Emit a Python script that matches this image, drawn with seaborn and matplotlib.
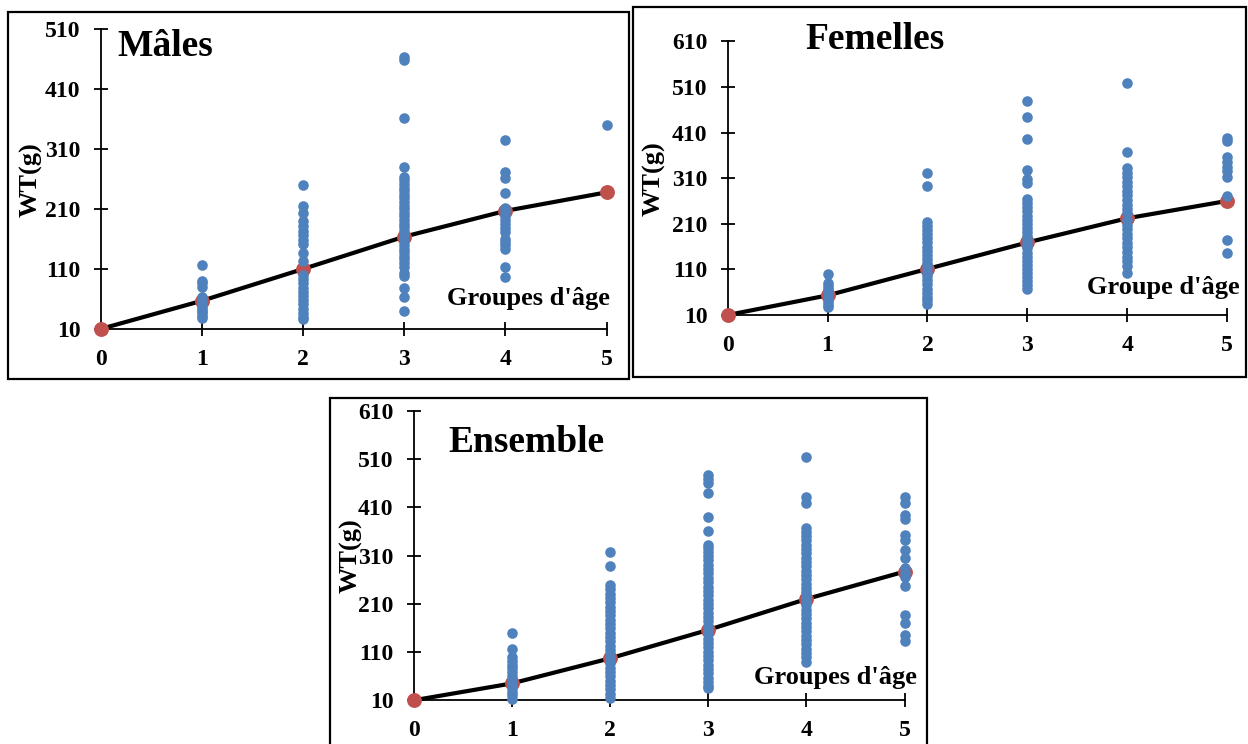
import matplotlib
matplotlib.use("Agg")
import matplotlib.pyplot as plt
from matplotlib.patches import Rectangle
import seaborn as sns
import pandas as pd

sns.set_theme(style="white")
plt.rcParams['font.family'] = ['Liberation Serif', 'DejaVu Serif']
plt.rcParams['font.weight'] = 'bold'

ages = [0, 1, 2, 3, 4, 5]

# Mâles
m1 = [117, 90, 86, 80, 64, 60, 56, 52, 48, 44, 40, 36, 32, 28]
m2 = [250, 215, 203, 190, 182, 174, 166, 158, 152, 137, 123, 100, 93, 86, 79, 72, 65, 58, 51, 44, 37, 30, 27]
m3 = [464, 459, 362, 280, 264, 258, 252, 246, 240, 234, 228, 222, 216, 210, 204, 198, 192, 186, 180, 174,
      168, 162, 156, 150, 144, 138, 132, 126, 120, 114, 103, 98, 78, 64, 40]
m4 = [325, 272, 262, 237, 212, 205, 199, 192, 186, 178, 172, 160, 155, 150, 144, 114, 96]
m5 = [350]
m_mean = [10, 57, 110, 164, 207, 238]

# Femelles
f1 = [99, 80, 74, 68, 62, 56, 50, 44, 38, 32, 27]
f2 = [322, 292, 214, 205, 196, 187, 178, 169, 160, 151, 142, 133, 124, 115, 104, 95, 86, 77, 68, 59, 50, 42, 34]
f3 = [479, 443, 395, 327, 308, 299, 264, 255, 246, 237, 228, 219, 210, 201, 192, 183, 174, 165, 156, 147,
      138, 129, 120, 111, 102, 93, 84, 75, 67]
f4 = [518, 367, 332, 322, 312, 302, 292, 282, 272, 262, 252, 242, 233, 218, 208, 198, 188, 178, 168, 158,
      148, 138, 128, 118, 101]
f5 = [398, 392, 356, 345, 335, 326, 313, 271, 174, 145]
f_mean = [10, 53, 111, 169, 222, 260]

# Ensemble
e1 = [149, 116, 100, 92, 84, 76, 68, 60, 52, 44, 36, 28, 20, 12]
e2 = [318, 289, 249, 240, 231, 222, 213, 204, 195, 186, 177, 168, 159, 150, 141, 132, 123, 114, 105, 96,
      87, 78, 69, 60, 51, 42, 33, 24, 15]
e3 = [477, 468, 460, 439, 391, 361, 333, 325, 317, 309, 300, 291, 282, 273, 264, 255, 246, 237, 228, 219,
      210, 201, 192, 183, 174, 165, 156, 147, 138, 129, 120, 111, 102, 93, 84, 75, 66, 57, 48, 40, 35]
e4 = [515, 432, 420, 367, 360, 351, 342, 333, 324, 315, 306, 297, 288, 279, 270, 261, 252, 243, 234, 225,
      216, 207, 198, 189, 180, 171, 162, 153, 144, 135, 126, 117, 108, 99, 90]
e5 = [432, 420, 394, 387, 353, 342, 322, 306, 284, 273, 266, 247, 187, 171, 145, 132]
e_mean = [10, 45, 97, 156, 220, 277]

titles = ["Mâles", "Femelles", "Ensemble"]
xlabels = ["Groupes d'âge", "Groupe d'âge", "Groupes d'âge"]
y_ticks_m = [10, 110, 210, 310, 410, 510]
y_ticks_fe = [10, 110, 210, 310, 410, 510, 610]

BLUE = "#4F81BD"
RED = "#C0504D"
W, H = 1248, 744


def long_df(groups):
    rows = []
    for age, vals in zip(ages[1:], groups):
        for v in vals:
            rows.append({"age": age, "wt": v})
    return pd.DataFrame(rows)


panels = [
    dict(groups=[m1, m2, m3, m4, m5], mean=m_mean, yt=y_ticks_m,
         ax=(100.5, 606.5, 29.3, 329), border=(8, 11.5, 629, 378.5),
         title=(117, 56), ylab=(31, 180), xlab=(610, 305)),
    dict(groups=[f1, f2, f3, f4, f5], mean=f_mean, yt=y_ticks_fe,
         ax=(727.7, 1227, 41.3, 315), border=(633, 7.5, 1246, 377),
         title=(805, 49), ylab=(654, 179), xlab=(1240, 294)),
    dict(groups=[e1, e2, e3, e4, e5], mean=e_mean, yt=y_ticks_fe,
         ax=(413.6, 904.6, 411, 700.3), border=(330, 397.5, 927, 760),
         title=(448, 452), ylab=(351, 556), xlab=(917, 684)),
]

fig = plt.figure(figsize=(W / 100, H / 100), dpi=100)

for i, p in enumerate(panels):
    x0, x5, ytop, ybot = p["ax"]
    ax = fig.add_axes([x0 / W, 1 - ybot / H, (x5 - x0) / W, (ybot - ytop) / H])
    ax.set_facecolor("none")
    bx0, by0, bx1, by1 = p["border"]
    fig.add_artist(Rectangle((bx0 / W, 1 - by1 / H), (bx1 - bx0) / W, (by1 - by0) / H,
                             transform=fig.transFigure, fill=False, ec="black", lw=1.6))

    df = long_df(p["groups"])
    mdf = pd.DataFrame({"age": ages, "wt": p["mean"]})
    sns.lineplot(data=mdf, x="age", y="wt", ax=ax, color="black", lw=3.0, clip_on=False, zorder=2)
    sns.scatterplot(data=mdf, x="age", y="wt", ax=ax, color=RED, s=115, linewidth=0,
                    clip_on=False, zorder=3)
    sns.scatterplot(data=df, x="age", y="wt", ax=ax, color=BLUE, s=58, linewidth=0,
                    clip_on=False, zorder=4)

    ax.set_xlim(0, 5)
    ax.set_ylim(p["yt"][0], p["yt"][-1])
    ax.set_xticks(ages)
    ax.set_yticks(p["yt"])
    ax.set_xlabel("")
    ax.set_ylabel("")
    for s in ["top", "right"]:
        ax.spines[s].set_visible(False)
    for s in ["left", "bottom"]:
        ax.spines[s].set_color("black")
        ax.spines[s].set_linewidth(1.3)
    ax.tick_params(axis="both", which="major", bottom=True, left=True, direction="inout",
                   length=10, width=1.3, color="black", labelsize=17, labelcolor="black")
    ax.tick_params(axis="y", pad=9.5)
    ax.tick_params(axis="x", pad=9.5)
    for lab in ax.get_xticklabels() + ax.get_yticklabels():
        lab.set_fontweight("bold")

    tx, ty = p["title"]
    fig.text(tx / W, 1 - ty / H, titles[i], fontsize=27, fontweight="bold",
             ha="left", va="baseline", color="black")
    lx, ly = p["ylab"]
    fig.text(lx / W, 1 - ly / H, "WT(g)", fontsize=19, fontweight="bold",
             rotation=90, ha="center", va="center", color="black")
    gx, gy = p["xlab"]
    fig.text(gx / W, 1 - gy / H, xlabels[i], fontsize=19, fontweight="bold",
             ha="right", va="baseline", color="black")

fig.savefig("out.png", dpi=100)
